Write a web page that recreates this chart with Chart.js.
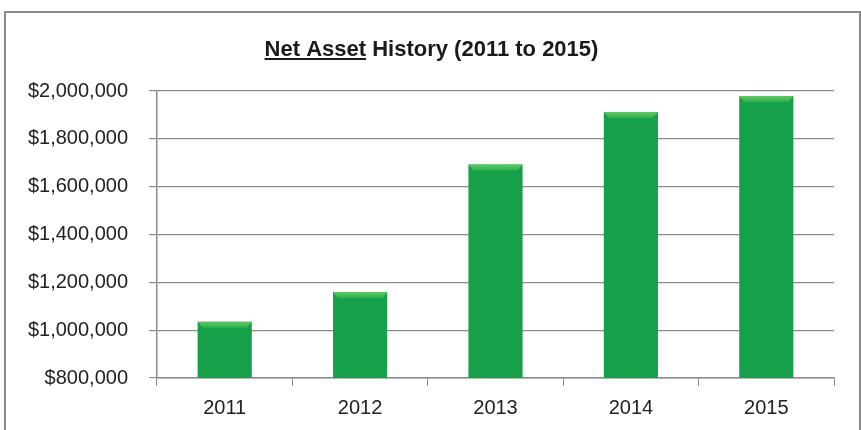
<!DOCTYPE html>
<html>
<head>
<meta charset="utf-8">
<script src="https://cdn.jsdelivr.net/npm/chart.js@4"></script>
<style>
    html, body { margin: 0; padding: 0; background: #fff; overflow: hidden; }
    #wrap { position: relative; width: 861px; height: 430px; }
    #frame {
        position: absolute; left: 4px; top: 11px; width: 853px; height: 440px;
        border: 2px solid #8c8c8c; pointer-events: none;
    }
    canvas { position: absolute; left: 0; top: 0; }
</style>
</head>
<body>
<div id="wrap">
    <canvas id="assetChart" width="861" height="430"></canvas>
    <div id="frame"></div>
</div>
<script>
// Chart data
const years = ['2011', '2012', '2013', '2014', '2015'];
const netAssets = [1035000, 1160000, 1693000, 1912000, 1979000];
const titleUnderlined = 'Net Asset';
const titleRest = ' History (2011 to 2015)';

const gridGray = '#8c8c8c';
const labelFont = { family: 'Liberation Sans', size: 20 };

function money(v) {
    return '$' + Number(v).toLocaleString('en-US');
}

// Horizontal shading so each bar looks rounded like the Excel original
function barFill(context) {
    const bar = context.element;
    const area = context.chart.chartArea;
    if (!bar || !area || !bar.width) return '#16a04a';
    const left = bar.x - bar.width / 2;
    const g = context.chart.ctx.createLinearGradient(left, 0, left + bar.width, 0);
    g.addColorStop(0, '#0f8a3a');
    g.addColorStop(0.12, '#17a34b');
    g.addColorStop(0.88, '#17a34b');
    g.addColorStop(1, '#0d7f35');
    return g;
}

// Title with the first words underlined
const titlePlugin = {
    id: 'underlineTitle',
    afterDraw(chart) {
        const ctx = chart.ctx;
        ctx.save();
        ctx.font = 'bold 22px "Liberation Sans"';
        ctx.fillStyle = '#1a1a1a';
        ctx.textBaseline = 'alphabetic';
        const w1 = ctx.measureText(titleUnderlined).width;
        const w2 = ctx.measureText(titleRest).width;
        const x0 = chart.width / 2 + 1 - (w1 + w2) / 2;
        const y0 = 56;
        ctx.fillText(titleUnderlined, x0, y0);
        ctx.fillText(titleRest, x0 + w1, y0);
        ctx.fillRect(x0, y0 + 2, w1, 2);
        ctx.restore();
    }
};

// Light bevel on top of each bar
const bevelPlugin = {
    id: 'bevel',
    afterDatasetsDraw(chart) {
        const ctx = chart.ctx;
        chart.getDatasetMeta(0).data.forEach(function(bar) {
            const l = bar.x - bar.width / 2;
            const r = bar.x + bar.width / 2;
            const t = bar.y;
            const d = 6;
            ctx.save();
            const g = ctx.createLinearGradient(0, t, 0, t + d);
            g.addColorStop(0, '#5ccb60');
            g.addColorStop(1, '#2db251');
            ctx.fillStyle = g;
            ctx.beginPath();
            ctx.moveTo(l, t);
            ctx.lineTo(r, t);
            ctx.lineTo(r - 5, t + d);
            ctx.lineTo(l + 5, t + d);
            ctx.closePath();
            ctx.fill();
            ctx.restore();
        });
    }
};

new Chart(document.getElementById('assetChart'), {
    type: 'bar',
    data: {
        labels: years,
        datasets: [{
            label: 'Net Assets',
            data: netAssets,
            backgroundColor: barFill,
            borderWidth: 0,
            categoryPercentage: 1,
            barPercentage: 0.4
        }]
    },
    options: {
        responsive: false,
        animation: false,
        layout: {
            padding: { left: 0, right: 27, top: 91, bottom: 0 }
        },
        plugins: {
            legend: { display: false },
            title: { display: false },
            tooltip: { enabled: false }
        },
        scales: {
            x: {
                grid: {
                    drawOnChartArea: false,
                    drawTicks: true,
                    tickLength: 8,
                    color: gridGray
                },
                border: { display: true, color: gridGray, width: 1.5 },
                ticks: {
                    color: '#222',
                    font: labelFont,
                    padding: 10
                }
            },
            y: {
                min: 800000,
                max: 2000000,
                afterFit: function(scale) { scale.width = 157; },
                grid: {
                    drawOnChartArea: true,
                    drawTicks: true,
                    tickLength: 8,
                    color: gridGray,
                    lineWidth: 1.2
                },
                border: { display: true, color: gridGray, width: 1.5 },
                ticks: {
                    stepSize: 200000,
                    color: '#222',
                    font: labelFont,
                    padding: 21,
                    callback: money
                }
            }
        }
    },
    plugins: [titlePlugin, bevelPlugin]
});
</script>
</body>
</html>
